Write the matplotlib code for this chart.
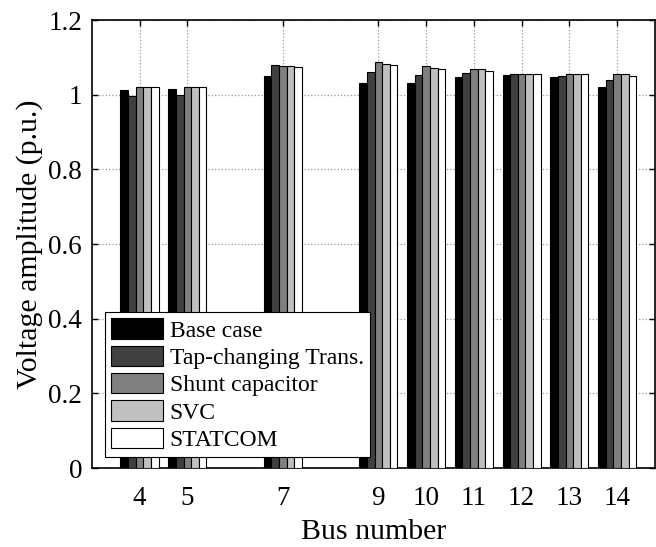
import numpy as np
from matplotlib import pyplot as plt

buses = [4, 5, 7, 9, 10, 11, 12, 13, 14]
series_names = ["Base case", "Tap-changing Trans.", "Shunt capacitor", "SVC", "STATCOM"]
base_case = [1.013, 1.016, 1.051, 1.033, 1.031, 1.047, 1.053, 1.047, 1.022]
tap_changing = [0.998, 1.000, 1.080, 1.060, 1.054, 1.058, 1.056, 1.050, 1.039]
shunt_capacitor = [1.022, 1.022, 1.078, 1.088, 1.078, 1.069, 1.057, 1.055, 1.056]
svc = [1.021, 1.022, 1.077, 1.084, 1.073, 1.069, 1.057, 1.055, 1.055]
statcom = [1.021, 1.021, 1.074, 1.080, 1.070, 1.065, 1.057, 1.055, 1.050]
colors = ["#000000", "#404040", "#808080", "#c0c0c0", "#ffffff"]


def main():
    plt.rcParams["font.family"] = ["Liberation Serif", "DejaVu Serif"]
    fig = plt.figure(figsize=(6.56, 5.47), dpi=100)
    ax = fig.add_axes([0.14, 0.1444, 0.859, 0.8186])

    x = np.array(buses, dtype=float)
    width = 0.16
    all_series = [base_case, tap_changing, shunt_capacitor, svc, statcom]
    for i, (vals, name, c) in enumerate(zip(all_series, series_names, colors)):
        ax.bar(x + (i - 2) * width, vals, width, color=c, edgecolor="black",
               linewidth=0.8, label=name, zorder=3)

    ax.set_xlim(3.0, 14.8)
    ax.set_ylim(0, 1.2)
    ax.set_xticks(buses)
    ax.set_yticks([0, 0.2, 0.4, 0.6, 0.8, 1.0, 1.2])
    ax.set_yticklabels(["0", "0.2", "0.4", "0.6", "0.8", "1", "1.2"])
    ax.tick_params(direction="in", top=True, right=True, labelsize=19.5, length=4, width=1)
    ax.tick_params(axis="x", pad=13)
    ax.tick_params(axis="y", pad=7)
    ax.grid(True, linestyle=":", color="#999999", linewidth=0.9, zorder=0)
    ax.set_axisbelow(True)
    for s in ax.spines.values():
        s.set_linewidth(1.2)

    ax.set_xlabel("Bus number", fontsize=21.5, labelpad=6)
    ax.set_ylabel("Voltage amplitude (p.u.)", fontsize=21.5, labelpad=4)

    leg = ax.legend(loc="lower left", bbox_to_anchor=(0.023, 0.025), fontsize=17,
                    fancybox=False, edgecolor="black", framealpha=1,
                    handlelength=2.2, handleheight=0.95, labelspacing=0.17,
                    handletextpad=0.3, borderpad=0.25, borderaxespad=0.0)
    leg.get_frame().set_linewidth(0.8)

    fig.savefig("out.png", dpi=100)


if __name__ == "__main__":
    main()
